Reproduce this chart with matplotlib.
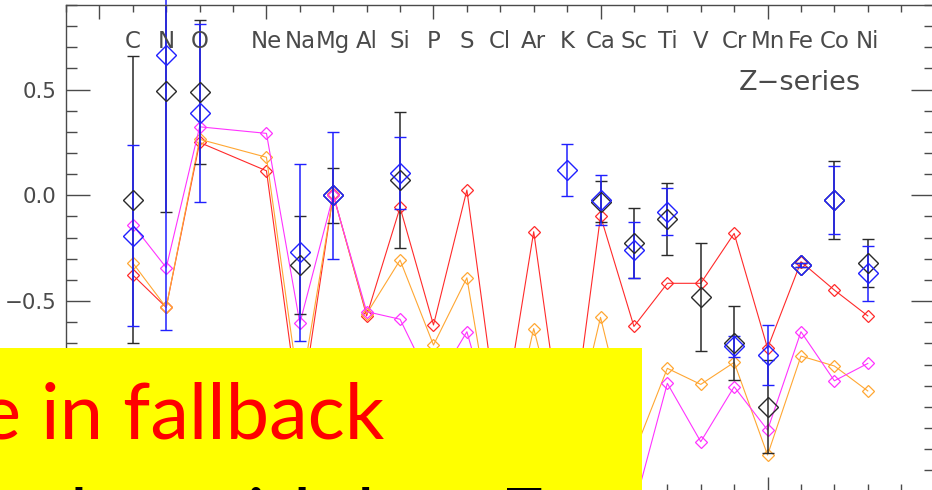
import matplotlib.pyplot as plt
import numpy as np
from matplotlib.patches import Rectangle
from matplotlib.ticker import MultipleLocator

# elements shown along the top, with atomic number
elements = ['C', 'N', 'O', 'Ne', 'Na', 'Mg', 'Al', 'Si', 'P', 'S', 'Cl', 'Ar',
            'K', 'Ca', 'Sc', 'Ti', 'V', 'Cr', 'Mn', 'Fe', 'Co', 'Ni']
z_el = [6, 7, 8, 10, 11, 12, 13, 14, 15, 16, 17, 18,
        19, 20, 21, 22, 23, 24, 25, 26, 27, 28]

# model yields (lines with small diamonds)
model_red = [-0.377, -0.53, 0.25, 0.116, -1.05, 0.005, -0.57, -0.057, -0.613, 0.025, -1.15, -0.172,
             -1.3, -0.098, -0.62, -0.416, -0.416, -0.18, -0.723, -0.314, -0.448, -0.57]
model_orange = [-0.32, -0.53, 0.265, 0.18, -0.95, 0.0, -0.56, -0.306, -0.708, -0.39, -1.33, -0.63,
                -1.25, -0.577, -1.22, -0.818, -0.894, -0.79, -1.228, -0.76, -0.807, -0.925]
model_magenta = [-0.14, -0.342, 0.324, 0.293, -0.605, 0.0, -0.55, -0.586, -0.91, -0.645, -1.2, -0.95,
                 -1.2, -0.95, -1.48, -0.889, -1.165, -0.905, -1.11, -0.645, -0.877, -0.795]

# observed abundances, black set
obs_k_z = [6, 7, 8, 11, 12, 14, 20, 21, 22, 23, 24, 25, 26, 27, 28]
obs_k = [-0.02, 0.495, 0.49, -0.33, 0.0, 0.072, -0.03, -0.227, -0.113, -0.48, -0.697, -1.0, -0.33, -0.022, -0.32]
obs_k_err = [0.68, 0.573, 0.34, 0.23, 0.13, 0.32, 0.097, 0.165, 0.17, 0.255, 0.175, 0.22, 0.01, 0.185, 0.115]

# observed abundances, blue set
obs_b_z = [6, 7, 8, 11, 12, 14, 19, 20, 21, 22, 24, 25, 26, 27, 28]
obs_b = [-0.19, 0.663, 0.39, -0.27, 0.0, 0.107, 0.12, -0.022, -0.259, -0.077, -0.713, -0.755, -0.33, -0.022, -0.369]
obs_b_err = [0.43, 1.3, 0.42, 0.42, 0.30, 0.17, 0.125, 0.12, 0.133, 0.11, 0.05, 0.14, 0.01, 0.16, 0.13]

ytick_vals = [-0.5, 0.0, 0.5]
ytick_labels = ['\u22120.5', '0.0', '0.5']

grey = '#4a4a4a'

fig = plt.figure(figsize=(9.32, 4.9), dpi=100)
# axes run a bit past the right and bottom edge, like the cropped slide
ax = fig.add_axes([66 / 932, -1.4 / 490, 868.6 / 932, 486.4 / 490])

for vals, col in [(model_red, '#ff2a2a'), (model_orange, '#ffa733'), (model_magenta, '#ff33ff')]:
    ax.plot(z_el, vals, color=col, lw=0.8, marker='D', ms=5.8, mfc='none', mec=col, mew=0.9)

ax.errorbar(obs_k_z, obs_k, yerr=obs_k_err, fmt='D', ms=10.5, mfc='none', mec='#2a2a2a', mew=1.0,
            ecolor='#2a2a2a', elinewidth=1.1, capsize=4, capthick=1.1)
eb = ax.errorbar(obs_b_z, obs_b, yerr=obs_b_err, fmt='D', ms=10.5, mfc='none', mec='#2020ff', mew=1.0,
                 ecolor='#2020ff', elinewidth=1.1, capsize=4, capthick=1.1)
# the long N bar runs through the top frame
for coll in eb[2]:
    coll.set_clip_on(False)

for z, name in zip(z_el, elements):
    ax.text(z, 0.695, name, ha='center', va='baseline', fontsize=16.5, color=grey)
ax.text(25.97, 0.498, 'Z\u2212series', ha='center', va='baseline', fontsize=19.5, color=grey)

ax.set_xlim(4, 30)
ax.set_ylim(-1.4, 0.9)
ax.xaxis.set_major_locator(MultipleLocator(5))
ax.xaxis.set_minor_locator(MultipleLocator(1))
ax.set_yticks(ytick_vals)
ax.set_yticklabels(ytick_labels)
ax.yaxis.set_minor_locator(MultipleLocator(0.1))
ax.set_xticklabels([])
ax.tick_params(axis='x', which='major', direction='in', top=True, bottom=True, length=10, width=1, color=grey)
ax.tick_params(axis='x', which='minor', direction='in', top=True, bottom=True, length=5, width=1, color=grey)
ax.tick_params(axis='y', which='major', direction='in', left=True, right=True, length=17, width=1,
               color=grey, labelsize=15.4, labelcolor=grey, pad=7)
ax.tick_params(axis='y', which='minor', direction='in', left=True, right=True, length=8, width=1, color=grey)
for sp in ax.spines.values():
    sp.set_color(grey)
    sp.set_linewidth(1.0)

# yellow callout box over the lower left
fig.add_artist(Rectangle((0, 0), 641.7 / 932, 142.3 / 490, transform=fig.transFigure,
                         facecolor='#ffff00', edgecolor='none', zorder=10))
fig.text(384 / 932, 52 / 490, 'e in fallback', ha='right', va='baseline', fontsize=56,
         color='#ff0000', family='Lato', zorder=11)
fig.text(545 / 932, -53 / 490, 'ed, also with low E', ha='right', va='baseline', fontsize=56,
         color='black', family='Lato', zorder=11)

fig.savefig('out.png', dpi=100)
